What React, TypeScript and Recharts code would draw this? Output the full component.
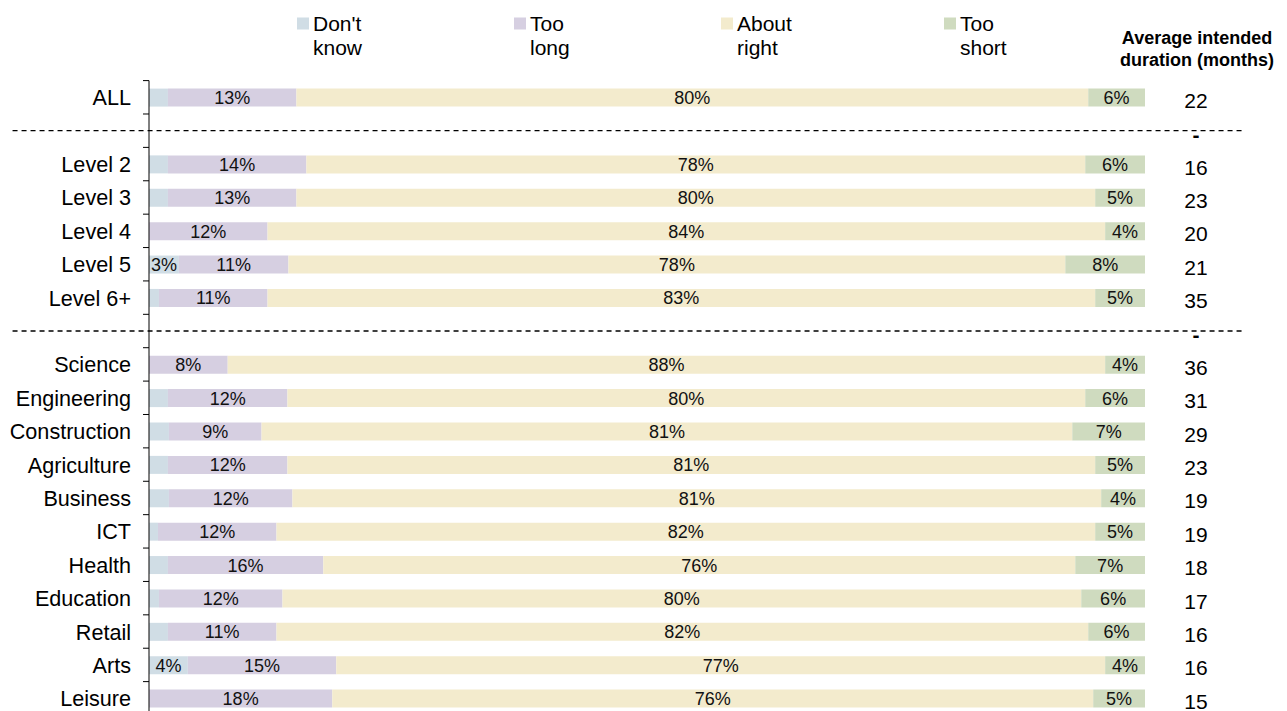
import React from "react";
import { BarChart, Bar, XAxis, YAxis, ReferenceLine, LabelList } from "recharts";

// ---------- data ----------
const categories = [
  "ALL", "gap1", "Level 2", "Level 3", "Level 4", "Level 5", "Level 6+", "gap2",
  "Science", "Engineering", "Construction", "Agriculture", "Business", "ICT",
  "Health", "Education", "Retail", "Arts", "Leisure",
];
const dontKnow = [1.9, 0, 1.9, 1.9, 0, 3.0, 1.0, 0, 0, 1.9, 2.0, 1.9, 2.0, 0.9, 1.9, 1.0, 1.9, 3.9, 0];
const tooLong = [12.9, 0, 13.9, 12.9, 11.9, 11.0, 10.9, 0, 7.9, 12.0, 9.3, 12.0, 12.4, 11.9, 15.6, 12.4, 10.9, 14.9, 18.4];
const aboutRight = [79.5, 0, 78.2, 80.2, 84.1, 78.0, 83.1, 0, 88.1, 80.1, 81.4, 81.1, 81.2, 82.2, 75.5, 80.2, 81.5, 77.2, 76.4];
const tooShort = [5.7, 0, 6.0, 5.0, 4.0, 8.0, 5.0, 0, 4.0, 6.0, 7.3, 5.0, 4.4, 5.0, 7.0, 6.4, 5.7, 4.0, 5.2];
const durations = ["22", "-", "16", "23", "20", "21", "35", "-", "36", "31", "29", "23", "19", "19", "18", "17", "16", "16", "15"];

const seriesKeys = ["dk", "tl", "ar", "ts"];
const seriesNames = [["Don't", "know"], ["Too", "long"], ["About", "right"], ["Too", "short"]];
const seriesColors = ["#d0dde5", "#d6cfe1", "#f3ebcd", "#cfdbbf"];
const labelMin = [3, 1, 1, 1];
const headerLines = ["Average intended", "duration (months)"];

const data = categories.map((name, i) => ({
  name,
  dk: dontKnow[i],
  tl: tooLong[i],
  ar: aboutRight[i],
  ts: tooShort[i],
}));

// ---------- layout ----------
const W = 1287;
const H = 730;
const TOP = 80.6;
const BOTTOM = 15;
const AXIS_W = 149;
const RIGHT = 142;
const BAND = (H - TOP - BOTTOM) / categories.length;
const FONT = "'Liberation Sans', Arial, Helvetica, sans-serif";
const legendX = [297, 514, 721, 944];

const CategoryTick = (props: any) => {
  const { y, payload } = props;
  const name: string = payload.value;
  const idx = categories.indexOf(name);
  const isGap = name.startsWith("gap");
  const last = idx === categories.length - 1;
  return (
    <g>
      <line x1={AXIS_W - 6} x2={AXIS_W} y1={y - BAND / 2} y2={y - BAND / 2} stroke="#000" strokeWidth={1} />
      {last && <line x1={AXIS_W - 6} x2={AXIS_W} y1={y + BAND / 2} y2={y + BAND / 2} stroke="#000" strokeWidth={1} />}
      {!isGap && (
        <text x={131} y={y + 8} textAnchor="end" fontSize={21.6} fontFamily={FONT} fill="#000">
          {name}
        </text>
      )}
      <text
        x={1196}
        y={y + (isGap ? 11 : 10.5)}
        textAnchor="middle"
        fontSize={21}
        fontWeight={isGap ? "bold" : "normal"}
        fontFamily={FONT}
        fill="#000"
      >
        {durations[idx]}
      </text>
    </g>
  );
};

const makeLabel = (min: number) => (p: any) => {
  const { x, y, width, height, value } = p;
  if (value == null || value < min) return null;
  return (
    <text
      x={Number(x) + Number(width) / 2}
      y={Number(y) + Number(height) / 2 + 6.5}
      textAnchor="middle"
      fontSize={18}
      fontFamily={FONT}
      fill="#111"
    >
      {Math.round(value)}%
    </text>
  );
};

const Legend = () => (
  <svg width={W} height={80} style={{ position: "absolute", left: 0, top: 0 }}>
    {seriesKeys.map((k, i) => (
      <g key={k}>
        <rect x={legendX[i]} y={17.5} width={12} height={12} fill={seriesColors[i]} />
        <text x={legendX[i] + 16} y={31} fontSize={21} fontFamily={FONT} fill="#000">
          {seriesNames[i][0]}
        </text>
        <text x={legendX[i] + 16} y={55} fontSize={21} fontFamily={FONT} fill="#000">
          {seriesNames[i][1]}
        </text>
      </g>
    ))}
    {headerLines.map((t, i) => (
      <text key={t} x={1197} y={44 + i * 22} textAnchor="middle" fontSize={18} fontWeight="bold" fontFamily={FONT} fill="#000">
        {t}
      </text>
    ))}
  </svg>
);

export default function App() {
  return (
    <div style={{ position: "absolute", left: 0, top: 0, width: W, height: 711, overflow: "hidden", background: "#fff" }}>
      <BarChart
        width={W}
        height={H}
        data={data}
        layout="vertical"
        margin={{ top: TOP, right: RIGHT, bottom: BOTTOM, left: 0 }}
        barSize={18}
      >
        <XAxis type="number" domain={[0, 100]} hide />
        <YAxis
          type="category"
          dataKey="name"
          width={AXIS_W}
          interval={0}
          tickLine={false}
          axisLine={{ stroke: "#000", strokeWidth: 1 }}
          tick={<CategoryTick />}
        />
        {seriesKeys.map((k, i) => (
          <Bar key={k} dataKey={k} stackId="a" fill={seriesColors[i]} isAnimationActive={false}>
            <LabelList dataKey={k} content={makeLabel(labelMin[i])} />
          </Bar>
        ))}
        {["gap1", "gap2"].map((g) => (
          <ReferenceLine
            key={g}
            segment={[{ x: -13.7, y: g }, { x: 109.8, y: g }]}
            stroke="#000"
            strokeWidth={1.3}
            strokeDasharray="5 4"
            ifOverflow="visible"
          />
        ))}
      </BarChart>
      <Legend />
    </div>
  );
}
